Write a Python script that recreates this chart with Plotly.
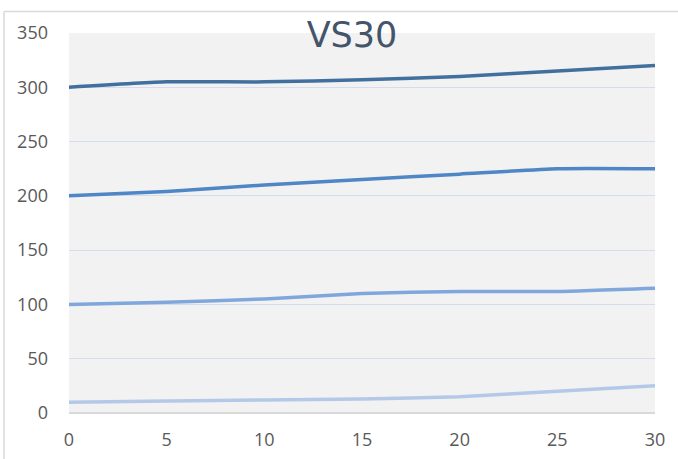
import plotly.graph_objects as go

# Distance values on the x axis
x_vals = [0, 5, 10, 15, 20, 25, 30]

# Four curves, top to bottom
series_a = [300, 305, 305, 307, 310, 315, 320]
series_b = [200, 204, 210, 215, 220, 225, 225]
series_c = [100, 102, 105, 110, 112, 112, 115]
series_d = [10, 11, 12, 13, 15, 20, 25]

y_ticks = [0, 50, 100, 150, 200, 250, 300, 350]
x_ticks = [0, 5, 10, 15, 20, 25, 30]

colors = ["#41709f", "#4f86c6", "#7fa7dc", "#b4c9e8"]

W, H = 678, 459
L, R, T, B = 69, 23, 33, 46
pw, ph = W - L - R, H - T - B

fig = go.Figure()
for ys, c in zip([series_a, series_b, series_c, series_d], colors):
    fig.add_trace(go.Scatter(
        x=x_vals, y=ys, mode="lines",
        line=dict(color=c, width=3.5, shape="spline", smoothing=0.5),
        showlegend=False, hoverinfo="skip",
    ))

font_fam = "Open Sans, Liberation Sans, sans-serif"

fig.update_layout(
    width=W, height=H,
    margin=dict(l=L, r=R, t=T, b=B, autoexpand=False),
    paper_bgcolor="white",
    plot_bgcolor="#f2f2f2",
    title=dict(
        text="VS30",
        font=dict(family="DejaVu Sans", size=35, color="#44546a", weight=500),
        x=352 / W, xanchor="center", xref="container",
        y=1 - 35 / H, yanchor="middle", yref="container",
        automargin=False,
    ),
    xaxis=dict(
        range=[0, 30], tickvals=x_ticks, showgrid=False, zeroline=False,
        showline=False, ticks="", automargin=False,
        tickfont=dict(family=font_fam, size=18, color="#595959"),
        ticklabelstandoff=14, fixedrange=True,
    ),
    yaxis=dict(
        range=[0, 350], tickvals=y_ticks, showgrid=True,
        gridcolor="#d3ddee", gridwidth=1, zeroline=True,
        zerolinecolor="#d9d9d9", zerolinewidth=1.5,
        showline=False, ticks="", automargin=False,
        tickfont=dict(family=font_fam, size=18, color="#595959"),
        ticklabelstandoff=20, fixedrange=True,
    ),
)

# Outer chart frame (left and top edges)
fx = (4 - L) / pw
fy = 1 + (T - 11.5) / ph
fig.add_shape(type="line", xref="paper", yref="paper",
              x0=fx, x1=1.2, y0=fy, y1=fy,
              line=dict(color="#d9d9d9", width=1.5))
fig.add_shape(type="line", xref="paper", yref="paper",
              x0=fx, x1=fx, y0=fy, y1=-0.3,
              line=dict(color="#d9d9d9", width=1.5))

fig.write_html("out.html")
